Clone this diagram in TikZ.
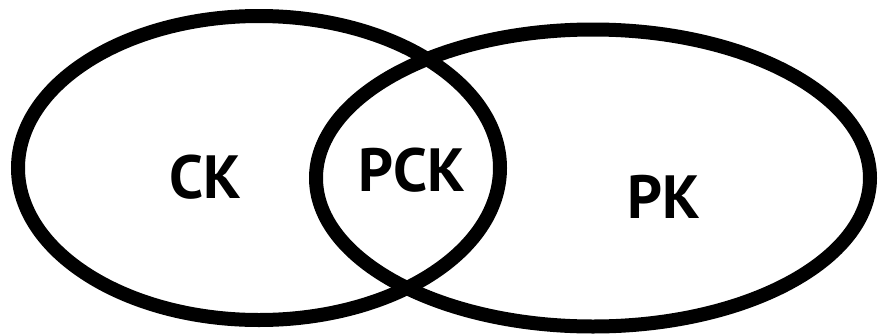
\documentclass[tikz,border=0pt]{standalone}
\usepackage{fontspec}
\setmainfont{PT Sans}
\usepackage{tikz}
\usetikzlibrary{shapes.geometric}

\begin{document}
\begin{tikzpicture}[x=1pt, y=-1pt,
    set/.style={ellipse, draw=black, line width=14pt, inner sep=0pt},
    lbl/.style={inner sep=0pt, font=\fontsize{61}{61}\selectfont\bfseries}
]
    \useasboundingbox (0,0) rectangle (879,335);

    % the two sets
    \node[set, minimum width=482pt, minimum height=304pt] (ck) at (259,168) {};
    \node[set, minimum width=554pt, minimum height=297pt] (pk) at (593,178) {};

    \node[lbl] (cklbl) at (205,177) {CK};
    \node[lbl] (pcklbl) at (412,170) {PCK};
    \node[lbl] (pklbl) at (664,197) {PK};
\end{tikzpicture}
\end{document}
